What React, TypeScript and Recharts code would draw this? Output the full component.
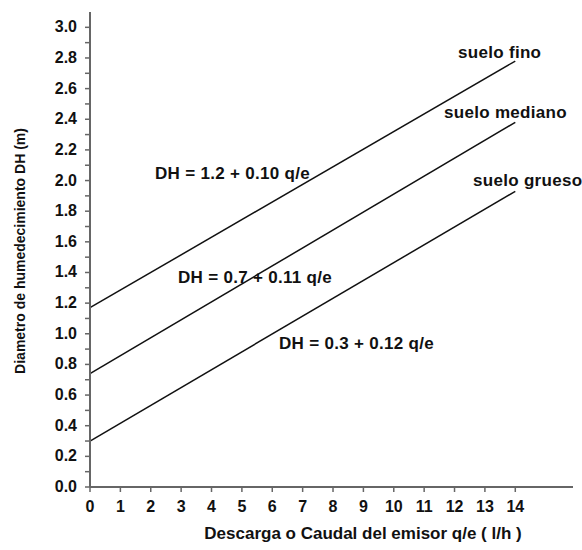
import React from 'react';
import { LineChart, Line, XAxis, YAxis } from 'recharts';

const caudal = [0, 14];
const sueloFino = [1.17, 2.78];
const sueloMediano = [0.74, 2.38];
const sueloGrueso = [0.3, 1.93];

const xTicks = [0, 1, 2, 3, 4, 5, 6, 7, 8, 9, 10, 11, 12, 13, 14];
const yTicks = [0, 0.1, 0.2, 0.3, 0.4, 0.5, 0.6, 0.7, 0.8, 0.9, 1.0, 1.1, 1.2, 1.3, 1.4, 1.5, 1.6, 1.7, 1.8, 1.9, 2.0, 2.1, 2.2, 2.3, 2.4, 2.5, 2.6, 2.7, 2.8, 2.9, 3.0];

const xTitle = 'Descarga o Caudal del emisor q/e ( l/h )';
const yTitle = 'Diametro de humedecimiento  DH (m)';
const eqFino = 'DH = 1.2 + 0.10 q/e';
const eqMediano = 'DH = 0.7 + 0.11 q/e';
const eqGrueso = 'DH = 0.3 + 0.12 q/e';
const nameFino = 'suelo fino';
const nameMediano = 'suelo mediano';
const nameGrueso = 'suelo grueso';

const data = caudal.map((q, i) => ({
  q,
  fino: sueloFino[i],
  mediano: sueloMediano[i],
  grueso: sueloGrueso[i],
}));

const FONT = '"Liberation Sans", Arial, sans-serif';
const AXIS = '#666';

const YTick = (props: any) => {
  const { x, y, payload } = props;
  const v = payload.value as number;
  if (Math.round(v * 10) % 2 !== 0) return null;
  return (
    <text x={x} y={y} dy={5} textAnchor="end" fontFamily={FONT} fontWeight="bold" fontSize={16} fill="#111">
      {v.toFixed(1)}
    </text>
  );
};

const XTick = (props: any) => {
  const { x, y, payload } = props;
  return (
    <text x={x} y={y} dy={12} textAnchor="middle" fontFamily={FONT} fontWeight="bold" fontSize={16} fill="#111">
      {payload.value}
    </text>
  );
};

const txt = { fontFamily: FONT, fontWeight: 'bold' as const, fill: '#111' };

export default function App() {
  return (
    <div style={{ position: 'absolute', left: 0, top: 0, width: 582, height: 550, background: '#fff' }}>
      <LineChart width={582} height={550} data={data} margin={{ top: 12, right: 9, bottom: 0, left: 0 }}>
        <XAxis
          dataKey="q"
          type="number"
          domain={[0, 15.9]}
          ticks={xTicks}
          interval={0}
          tickSize={5}
          tickMargin={8}
          height={63}
          axisLine={{ stroke: AXIS, strokeWidth: 2 }}
          tickLine={{ stroke: AXIS, strokeWidth: 1.5 }}
          tick={<XTick />}
        />
        <YAxis
          type="number"
          domain={[0, 3.1]}
          ticks={yTicks}
          interval={0}
          tickSize={5}
          tickMargin={8}
          width={90}
          axisLine={{ stroke: AXIS, strokeWidth: 2 }}
          tickLine={{ stroke: AXIS, strokeWidth: 1.5 }}
          tick={<YTick />}
        />
        <Line dataKey="fino" stroke="#111" strokeWidth={1.5} dot={false} isAnimationActive={false} />
        <Line dataKey="mediano" stroke="#111" strokeWidth={1.5} dot={false} isAnimationActive={false} />
        <Line dataKey="grueso" stroke="#111" strokeWidth={1.5} dot={false} isAnimationActive={false} />
        <text x={155} y={179} fontSize={17} letterSpacing={0.3} {...txt}>{eqFino}</text>
        <text x={178} y={283} fontSize={17} letterSpacing={0.3} {...txt}>{eqMediano}</text>
        <text x={279} y={349} fontSize={17} letterSpacing={0.3} {...txt}>{eqGrueso}</text>
        <text x={458} y={58} fontSize={17} letterSpacing={0.3} {...txt}>{nameFino}</text>
        <text x={444} y={118} fontSize={17} letterSpacing={0.3} {...txt}>{nameMediano}</text>
        <text x={473} y={186} fontSize={17} letterSpacing={0.3} {...txt}>{nameGrueso}</text>
        <text x={363} y={539} fontSize={17} textAnchor="middle" {...txt}>{xTitle}</text>
        <text x={25} y={251} fontSize={14} textAnchor="middle" transform="rotate(-90 25 251)" {...txt}>{yTitle}</text>
      </LineChart>
    </div>
  );
}
